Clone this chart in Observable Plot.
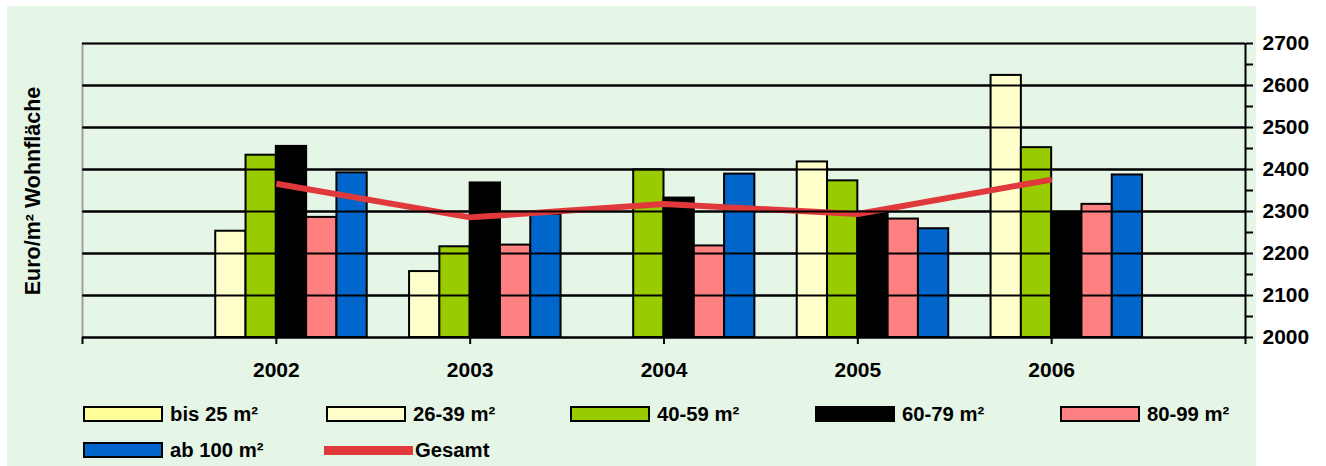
<!DOCTYPE html>
<html><head><meta charset="utf-8">
<script src="https://cdn.jsdelivr.net/npm/d3@7"></script>
<script src="https://cdn.jsdelivr.net/npm/@observablehq/plot@0.6"></script>
<style>
body{margin:0;background:#fff;font-family:"Liberation Sans",Arial,sans-serif;}
#wrap{position:relative;width:1326px;height:466px;overflow:hidden;background:#fff}
#bg{position:absolute;left:7px;top:6px;width:1249px;height:460px;background:#E5F5E6}
#chart{position:absolute;left:0;top:0}
#ytitle{position:absolute;left:33px;top:191px;transform:translate(-50%,-50%) rotate(-90deg);white-space:nowrap;font-weight:bold;font-size:21.5px;color:#000}
.item{position:absolute;display:flex;align-items:center;height:20px;font-weight:bold;font-size:20.3px;color:#000;white-space:nowrap}
.sw{width:80px;height:16px;box-sizing:border-box;border:2px solid #000;margin-right:7px}
.ln{width:89px;height:9px;margin-right:2px}
</style></head><body>
<div id="wrap"><div id="bg"></div><div id="chart"></div><div id="ytitle">Euro/m² Wohnfläche</div><div id="legend"></div></div>
<script>
const years = [2002, 2003, 2004, 2005, 2006];
const axisYears = [2001, 2002, 2003, 2004, 2005, 2006, 2007];
const seriesNames = ["bis 25 m²", "26-39 m²", "40-59 m²", "60-79 m²", "80-99 m²", "ab 100 m²"];
const seriesColors = ["#FFFF99", "#FFFFCC", "#99CC00", "#000000", "#FF8080", "#0066CC"];
const bis25 = [null, null, null, null, null];
const m26_39 = [2253, 2157, null, 2418, 2624];
const m40_59 = [2434, 2216, 2399, 2373, 2452];
const m60_79 = [2455, 2368, 2332, 2295, 2298];
const m80_99 = [2286, 2220, 2218, 2282, 2317];
const ab100 = [2392, 2293, 2389, 2259, 2387];
const gesamt = [2366, 2286, 2318, 2294, 2376];
const lineName = "Gesamt";
const lineColor = "#E0393C";
const yMajor = [2000, 2100, 2200, 2300, 2400, 2500, 2600, 2700];
const yMinor = [2050, 2150, 2250, 2350, 2450, 2550, 2650];
const yGrid = [2100, 2200, 2300, 2400, 2500, 2600];

const seriesValues = [bis25, m26_39, m40_59, m60_79, m80_99, ab100];
const rows = [];
seriesValues.forEach((vals, k) => vals.forEach((v, i) => {
  if (v != null) rows.push({year: years[i], series: seriesNames[k], k, value: v});
}));
const lineRows = years.map((y, i) => ({year: y, value: gesamt[i]}));
const slot = 0.1563;
const yDomain = [2000, 2700];
const xEnd = axisYears[axisYears.length - 1];

const chart = Plot.plot({
  width: 1326, height: 390,
  marginLeft: 82, marginRight: 81, marginTop: 43, marginBottom: 53,
  style: {background: "transparent", fontFamily: "'Liberation Sans', Arial, sans-serif", fontSize: "21px", fontWeight: "bold", color: "#000", overflow: "visible"},
  x: {type: "linear", domain: [axisYears[0], xEnd], axis: null},
  y: {domain: yDomain, axis: null},
  color: {domain: seriesNames, range: seriesColors},
  marks: [
    Plot.ruleY(yGrid, {stroke: "#000", strokeWidth: 2}),
    Plot.ruleY([yDomain[1]], {stroke: "#A0A0A0", strokeWidth: 2}),
    Plot.ruleX([axisYears[0]], {stroke: "#A0A0A0", strokeWidth: 2}),
    Plot.rect(rows, {
      x1: d => d.year + (d.k - 3) * slot,
      x2: d => d.year + (d.k - 2) * slot,
      y1: () => yDomain[0], y2: "value",
      fill: "series", stroke: "#000", strokeWidth: 2
    }),
    Plot.line(lineRows, {x: "year", y: "value", stroke: lineColor, strokeWidth: 6, strokeLinecap: "butt", strokeLinejoin: "miter"}),
    Plot.ruleY([yDomain[0]], {stroke: "#000", strokeWidth: 2}),
    Plot.ruleX([xEnd], {stroke: "#000", strokeWidth: 2}),
    Plot.axisX(axisYears, {label: null, tickSize: 7, tickPadding: 18, strokeWidth: 2, tickFormat: d => years.includes(d) ? String(d) : "", fontSize: 21, fontWeight: "bold"}),
    Plot.axisY(yMajor, {label: null, anchor: "right", tickSize: 7, tickPadding: 10, strokeWidth: 2, tickFormat: d => String(d), fontSize: 21, fontWeight: "bold", textAnchor: "start"}),
    Plot.axisY(yMinor, {label: null, anchor: "right", tickSize: 7, strokeWidth: 2, tickFormat: () => ""}),
    Plot.tickY(yMajor, {y: d => d, x1: () => xEnd - 0.036, x2: () => xEnd, stroke: "#000", strokeWidth: 2})
  ]
});
document.getElementById("chart").appendChild(chart);

const legend = document.getElementById("legend");
const items = seriesNames.map((n, k) => ({name: n, color: seriesColors[k], line: false}));
items.push({name: lineName, color: lineColor, line: true});
const colX = [83, 326, 570, 815, 1060];
const rowY = [404, 440];
items.forEach((it, i) => {
  const el = document.createElement("div");
  el.className = "item";
  el.style.left = (colX[i % 5] - (it.line ? 2 : 0)) + "px";
  el.style.top = rowY[Math.floor(i / 5)] + "px";
  const sw = document.createElement("div");
  sw.className = it.line ? "ln" : "sw";
  sw.style.background = it.color;
  el.appendChild(sw);
  const t = document.createElement("span");
  t.textContent = it.name;
  el.appendChild(t);
  legend.appendChild(el);
});
</script>
</body></html>
